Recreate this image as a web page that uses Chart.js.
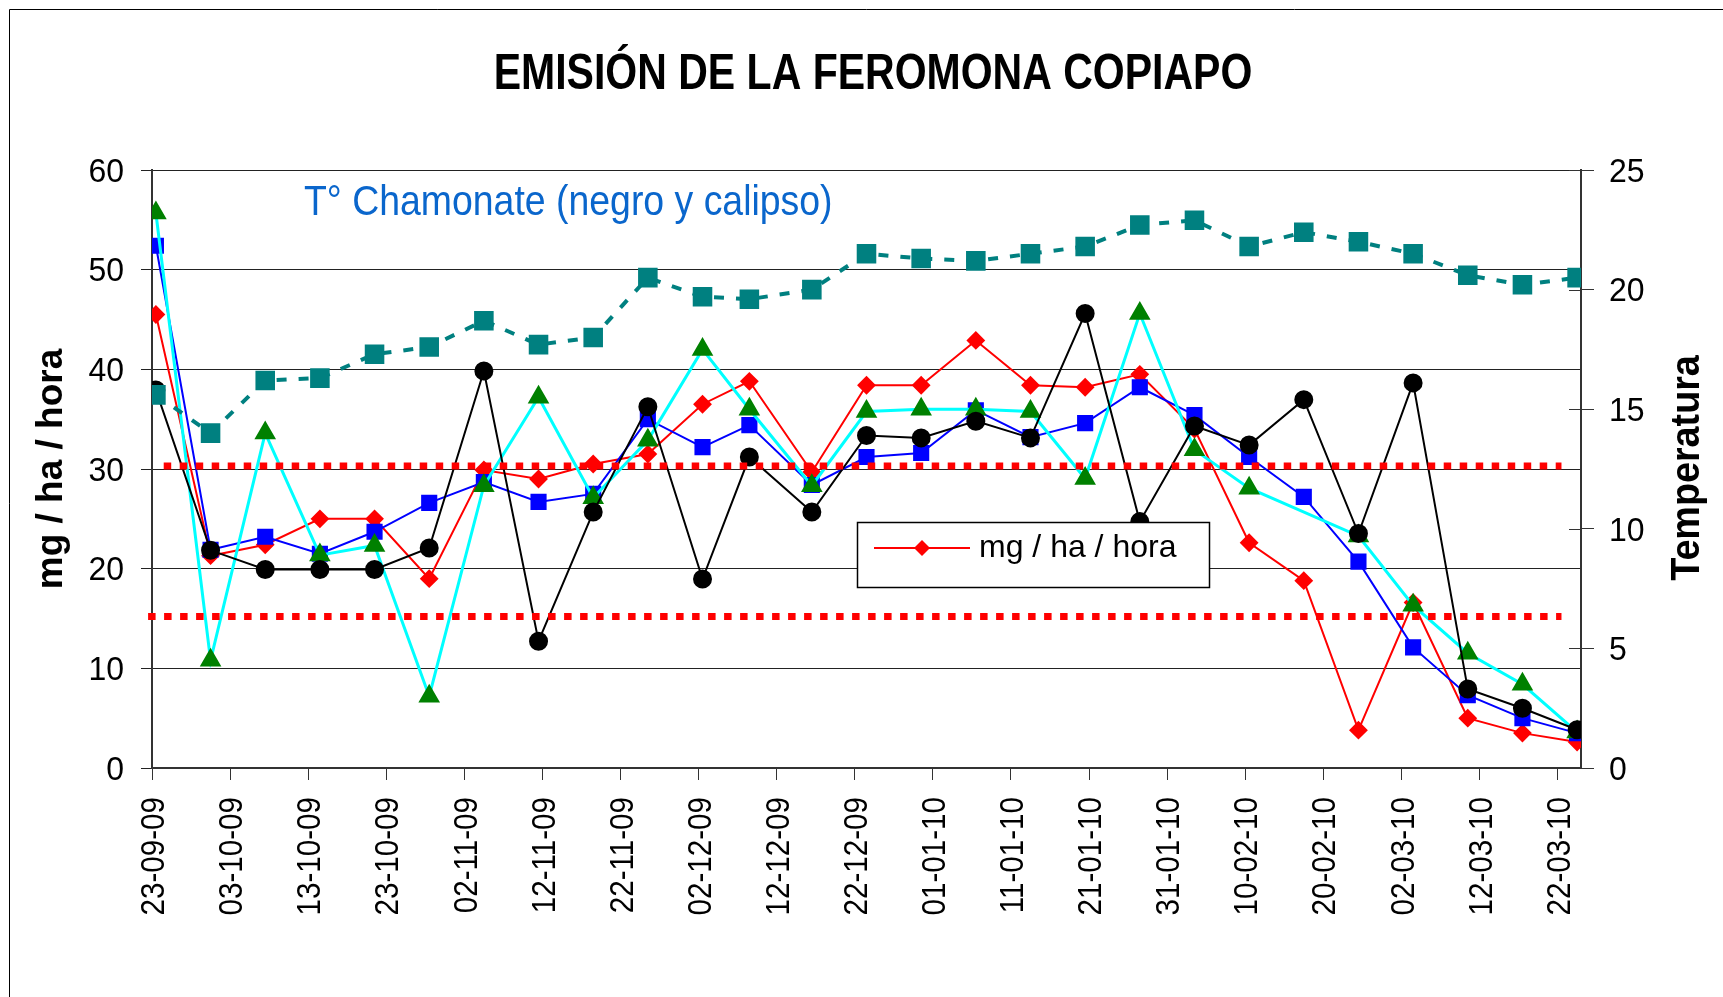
<!DOCTYPE html>
<html>
<head>
<meta charset="utf-8">
<title>Emisión de la feromona Copiapo</title>
<script src="https://cdn.jsdelivr.net/npm/chart.js@4.4.1/dist/chart.umd.min.js"></script>
<style>
  html, body { margin: 0; padding: 0; background: #fff; }
  #wrap { width: 1723px; height: 997px; }
</style>
</head>
<body>
<div id="wrap"><canvas id="feromonaChart" width="1723" height="997"></canvas></div>
<script>
// Fechas de muestreo (dd-mm-aa)
const fechas = ['23-09-09', '30-09-09', '07-10-09', '14-10-09', '21-10-09', '28-10-09', '04-11-09',
  '11-11-09', '18-11-09', '25-11-09', '02-12-09', '08-12-09', '16-12-09', '23-12-09', '30-12-09',
  '06-01-10', '13-01-10', '20-01-10', '27-01-10', '03-02-10', '10-02-10', '17-02-10', '24-02-10',
  '03-03-10', '10-03-10', '17-03-10', '24-03-10'];

// Etiquetas del eje X (cada 10 dias)
const fechasEje = ['23-09-09', '03-10-09', '13-10-09', '23-10-09', '02-11-09', '12-11-09', '22-11-09',
  '02-12-09', '12-12-09', '22-12-09', '01-01-10', '11-01-10', '21-01-10', '31-01-10', '10-02-10',
  '20-02-10', '02-03-10', '12-03-10', '22-03-10'];

// Emision mg / ha / hora (eje izquierdo)
const emisionRojo = [45.5, 21.3, 22.4, 25.0, 25.0, 19.0, 29.9, 29.0, 30.5, 31.5, 36.5, 38.8, 29.7, 38.4,
  38.4, 42.9, 38.4, 38.2, 39.5, 34.0, 22.6, 18.8, 3.8, 16.6, 5.0, 3.5, 2.6];
const emisionAzul = [52.4, 21.9, 23.2, 21.5, 23.7, 26.6, 28.7, 26.7, 27.5, 35.0, 32.2, 34.4, 28.4, 31.2,
  31.6, 35.9, 33.2, 34.6, 38.2, 35.4, 31.2, 27.2, 20.7, 12.1, 7.3, 5.0, 3.5];

// Temperaturas (eje derecho)
const tempCalipso = [23.2, 4.5, 14.0, 8.9, 9.3, 3.0, 11.8, 15.5, 11.3, 13.7, 17.5, 15.0, 11.8, 14.9,
  15.0, 15.0, 14.9, 12.1, 19.0, 13.3, 11.7, null, 9.7, 6.8, 4.8, 3.5, 1.5];
const tempNegro = [15.8, 9.1, 8.3, 8.3, 8.3, 9.2, 16.6, 5.3, 10.7, 15.1, 7.9, 13.0, 10.7, 13.9,
  13.8, 14.5, 13.8, 19.0, 10.3, 14.3, 13.5, 15.4, 9.8, 16.1, 3.3, 2.5, 1.6];
const tempPromedio = [15.6, 14.0, 16.2, 16.3, 17.3, 17.6, 18.7, 17.7, 18.0, 20.5, 19.7, 19.6, 20.0, 21.5,
  21.3, 21.2, 21.5, 21.8, 22.7, 22.9, 21.8, 22.4, 22.0, 21.5, 20.6, 20.2, 20.5];

// Umbrales de emision (lineas punteadas rojas)
const umbrales = [30.3, 15.2];

const FUENTE = "'Liberation Sans', Arial, sans-serif";

function diaDe(f) {
  const p = f.split('-').map(Number);
  const t = Date.UTC(2000 + p[2], p[1] - 1, p[0]);
  const p0 = fechas[0].split('-').map(Number);
  return Math.round((t - Date.UTC(2000 + p0[2], p0[1] - 1, p0[0])) / 86400000);
}

// cada punto va al centro de su dia
function pares(valores) {
  return valores.map((v, i) => ({ x: diaDe(fechas[i]) + 0.5, y: v }));
}

const ultimoDia = diaDe(fechas[fechas.length - 1]) + 1;

// texto con ancho comprimido (imita Arial Narrow)
function texto(ctx, str, x, y, size, o) {
  o = o || {};
  ctx.save();
  ctx.translate(x, y);
  if (o.rot) ctx.rotate(o.rot);
  ctx.scale(o.k || 1, 1);
  ctx.font = (o.bold ? 'bold ' : '') + size + 'px ' + FUENTE;
  ctx.fillStyle = o.color || '#000';
  ctx.textAlign = o.align || 'left';
  ctx.textBaseline = 'alphabetic';
  ctx.fillText(str, 0, 0);
  ctx.restore();
}

const decoracion = {
  id: 'decoracion',
  afterDraw(chart) {
    const ctx = chart.ctx;
    const { x, y, y2 } = chart.scales;
    const area = chart.chartArea;
    ctx.save();

    // marco exterior
    ctx.strokeStyle = '#000';
    ctx.lineWidth = 1;
    ctx.beginPath();
    ctx.moveTo(9.5, 997);
    ctx.lineTo(9.5, 9.5);
    ctx.lineTo(1723, 9.5);
    ctx.stroke();

    // marcas del eje derecho hacia adentro
    ctx.strokeStyle = '#333';
    y2.ticks.forEach(t => {
      const py = Math.round(y2.getPixelForValue(t.value)) + 0.5;
      ctx.beginPath();
      ctx.moveTo(area.right - 12, py);
      ctx.lineTo(area.right, py);
      ctx.stroke();
    });
    ctx.restore();

    // etiquetas de los ejes
    const tk = 33;
    y.ticks.forEach(t => {
      texto(ctx, String(t.value), 124, y.getPixelForValue(t.value) + tk * 0.358, tk, { align: 'right', k: 0.97 });
    });
    y2.ticks.forEach(t => {
      texto(ctx, String(t.value), 1609, y2.getPixelForValue(t.value) + tk * 0.358, tk, { align: 'left', k: 0.97 });
    });
    x.ticks.forEach((t, i) => {
      texto(ctx, fechasEje[i], x.getPixelForValue(t.value) + 34 * 0.358, 797, 34,
        { align: 'right', rot: -Math.PI / 2, k: 0.87 });
    });

    // titulo
    texto(ctx, 'EMISIÓN DE LA FEROMONA COPIAPO', 873, 89, 50, { bold: true, align: 'center', k: 0.82 });

    // nota
    texto(ctx, 'T° Chamonate (negro y calipso)', 304, 215, 43, { color: '#0a66cc', k: 0.87 });

    // titulos de ejes
    texto(ctx, 'mg / ha / hora', 62, 469, 37, { bold: true, align: 'center', rot: -Math.PI / 2, k: 1.0 });
    texto(ctx, 'Temperatura', 1699, 468, 41, { bold: true, align: 'center', rot: -Math.PI / 2, k: 0.92 });

    // leyenda
    const ds = chart.data.datasets[0];
    const ly = 548;
    ctx.save();
    ctx.fillStyle = '#fff';
    ctx.fillRect(857, 522, 353, 66);
    ctx.strokeStyle = '#000';
    ctx.lineWidth = 1.5;
    ctx.strokeRect(857.5, 522.5, 352, 65);
    ctx.strokeStyle = ds.borderColor;
    ctx.lineWidth = 2;
    ctx.beginPath();
    ctx.moveTo(874, ly);
    ctx.lineTo(970, ly);
    ctx.stroke();
    ctx.fillStyle = ds.pointBackgroundColor;
    ctx.beginPath();
    ctx.moveTo(922 - 8, ly);
    ctx.lineTo(922, ly - 8);
    ctx.lineTo(922 + 8, ly);
    ctx.lineTo(922, ly + 8);
    ctx.closePath();
    ctx.fill();
    ctx.restore();
    texto(ctx, ds.label, 979, 557, 32, { k: 1.0 });
  }
};

const ctx = document.getElementById('feromonaChart').getContext('2d');
const feromonaChart = new Chart(ctx, {
  type: 'line',
  data: {
    datasets: [
      {
        label: 'mg / ha / hora',
        data: pares(emisionRojo),
        yAxisID: 'y',
        borderColor: '#ff0000',
        pointBackgroundColor: '#ff0000',
        pointBorderColor: '#ff0000',
        borderWidth: 2,
        pointStyle: 'rectRot',
        pointRadius: 8,
        order: 6
      },
      {
        label: 'Azul',
        data: pares(emisionAzul),
        yAxisID: 'y',
        borderColor: '#0000ff',
        pointBackgroundColor: '#0000ff',
        pointBorderColor: '#0000ff',
        borderWidth: 2,
        pointStyle: 'rect',
        pointRadius: 10,
        order: 5
      },
      {
        label: 'Calipso',
        data: pares(tempCalipso),
        yAxisID: 'y2',
        borderColor: '#00ffff',
        pointBackgroundColor: '#008000',
        pointBorderColor: '#008000',
        borderWidth: 3,
        pointStyle: 'triangle',
        pointRadius: 9.5,
        spanGaps: true,
        order: 4
      },
      {
        label: 'Negro',
        data: pares(tempNegro),
        yAxisID: 'y2',
        borderColor: '#000000',
        pointBackgroundColor: '#000000',
        pointBorderColor: '#000000',
        borderWidth: 2,
        pointStyle: 'circle',
        pointRadius: 8.5,
        order: 3
      },
      {
        label: 'Temperatura',
        data: pares(tempPromedio),
        yAxisID: 'y2',
        borderColor: '#008080',
        pointBackgroundColor: '#008080',
        pointBorderColor: '#008080',
        borderWidth: 4,
        borderDash: [10, 12],
        pointStyle: 'rect',
        pointRadius: 11,
        order: 2
      },
      {
        label: 'Umbral superior',
        data: [{ x: 1.5, y: umbrales[0] }, { x: 180.5, y: umbrales[0] }],
        yAxisID: 'y',
        borderColor: '#ff0000',
        borderWidth: 7,
        borderDash: [7.5, 8.5],
        pointRadius: 0,
        clip: false,
        order: 1
      },
      {
        label: 'Umbral inferior',
        data: [{ x: -0.5, y: umbrales[1] }, { x: 180.5, y: umbrales[1] }],
        yAxisID: 'y',
        borderColor: '#ff0000',
        borderWidth: 7,
        borderDash: [7.5, 8.5],
        pointRadius: 0,
        clip: false,
        order: 1
      }
    ]
  },
  options: {
    responsive: false,
    animation: false,
    devicePixelRatio: 1,
    layout: { padding: { top: 170, left: 0, right: 0, bottom: 0 } },
    elements: { line: { tension: 0 }, point: { borderWidth: 1 } },
    plugins: {
      legend: { display: false },
      title: { display: false },
      tooltip: { enabled: false }
    },
    scales: {
      x: {
        type: 'linear',
        min: 0,
        max: ultimoDia,
        afterBuildTicks: s => { s.ticks = fechasEje.map(f => ({ value: diaDe(f) })); },
        afterFit: s => { s.height = 229; },
        grid: { drawOnChartArea: false, tickLength: 12, color: '#333' },
        border: { color: '#333', width: 2 },
        ticks: { display: false, autoSkip: false, maxRotation: 0 }
      },
      y: {
        position: 'left',
        min: 0,
        max: 60,
        afterFit: s => { s.width = 152; },
        grid: { color: '#222', tickLength: 11 },
        border: { color: '#333', width: 2 },
        ticks: { display: false, stepSize: 10 }
      },
      y2: {
        position: 'right',
        min: 0,
        max: 25,
        afterFit: s => { s.width = 142; },
        grid: { drawOnChartArea: false, color: '#333', tickLength: 13 },
        border: { color: '#333', width: 2 },
        ticks: { display: false, stepSize: 5 }
      }
    }
  },
  plugins: [decoracion]
});
</script>
</body>
</html>
